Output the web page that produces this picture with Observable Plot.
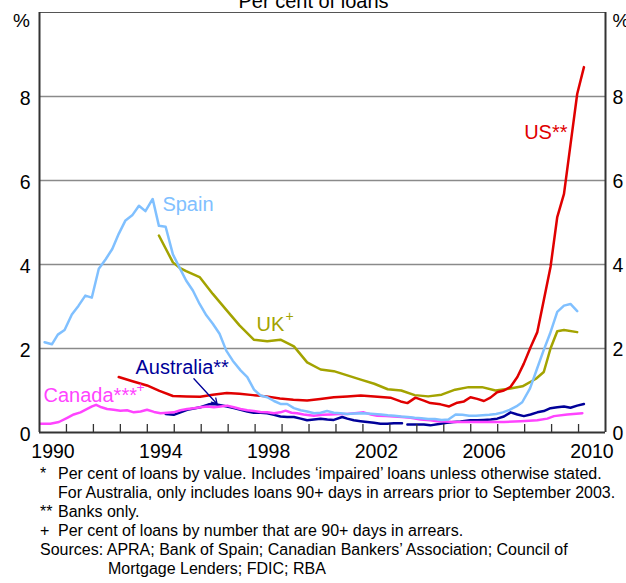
<!DOCTYPE html>
<html>
<head>
<meta charset="utf-8">
<script src="https://cdn.jsdelivr.net/npm/d3@7"></script>
<script src="https://cdn.jsdelivr.net/npm/@observablehq/plot@0.6"></script>
<style>
  html, body { margin: 0; padding: 0; background: #fff; }
  body { width: 626px; height: 583px; position: relative; overflow: hidden;
         font-family: "Liberation Sans", Arial, sans-serif; color: #000; }
  #chart svg { display: block; }
  .row { position: absolute; left: 0; height: 18px; line-height: 18px; font-size: 16px; white-space: nowrap; }
  .row span { position: absolute; top: 0; }
</style>
</head>
<body>
<div id="chart"></div>
<div id="notes"></div>
<script>
// ---------------- data ----------------
const title = "Per cent of loans";
const yTicks = [0, 2, 4, 6, 8];
const gridValues = [2, 4, 6, 8];
const yMax = 10;
const xDomain = [1990, 2011];
const tickYears = [1991,1992,1993,1994,1995,1996,1997,1998,1999,2000,2001,2002,2003,2004,2005,2006,2007,2008,2009,2010];
const labelYears = [1990, 1994, 1998, 2002, 2006, 2010];

const spain = [[1990.19,2.15],[1990.46,2.10],[1990.68,2.33],[1990.93,2.44],[1991.2,2.81],[1991.45,3.02],[1991.7,3.26],[1991.94,3.21],[1992.2,3.90],[1992.45,4.12],[1992.7,4.37],[1992.94,4.73],[1993.19,5.05],[1993.44,5.17],[1993.69,5.40],[1993.93,5.27],[1994.2,5.56],[1994.43,4.92],[1994.68,4.90],[1994.95,4.24],[1995.2,3.92],[1995.44,3.62],[1995.69,3.38],[1995.94,3.06],[1996.19,2.79],[1996.43,2.59],[1996.68,2.35],[1996.93,1.95],[1997.17,1.71],[1997.46,1.48],[1997.71,1.32],[1997.96,1.02],[1998.2,0.88],[1998.45,0.84],[1998.7,0.75],[1998.94,0.68],[1999.19,0.68],[1999.44,0.58],[1999.69,0.53],[1999.93,0.50],[2000.19,0.46],[2000.43,0.47],[2000.67,0.51],[2000.92,0.47],[2001.17,0.46],[2001.42,0.44],[2001.67,0.45],[2001.92,0.46],[2002.17,0.45],[2002.42,0.44],[2002.67,0.43],[2002.92,0.41],[2003.17,0.40],[2003.42,0.38],[2003.67,0.37],[2003.92,0.35],[2004.17,0.34],[2004.42,0.32],[2004.67,0.32],[2004.92,0.30],[2005.17,0.31],[2005.44,0.43],[2005.69,0.42],[2005.94,0.40],[2006.19,0.40],[2006.44,0.41],[2006.69,0.42],[2006.94,0.44],[2007.19,0.48],[2007.44,0.54],[2007.69,0.62],[2007.91,0.72],[2008.2,1.05],[2008.45,1.50],[2008.7,1.95],[2008.94,2.35],[2009.21,2.87],[2009.46,3.02],[2009.7,3.06],[2009.95,2.89]];

const uk = [[1994.43,4.69],[1994.95,4.05],[1995.2,3.92],[1995.44,3.84],[1995.94,3.70],[1996.43,3.30],[1996.93,2.92],[1997.42,2.55],[1997.95,2.21],[1998.45,2.17],[1998.94,2.21],[1999.44,2.05],[1999.93,1.67],[2000.43,1.50],[2000.92,1.46],[2001.42,1.36],[2001.92,1.26],[2002.42,1.16],[2002.92,1.03],[2003.42,1.0],[2003.92,0.89],[2004.42,0.86],[2004.92,0.90],[2005.42,1.02],[2005.92,1.08],[2006.42,1.08],[2006.92,1.0],[2007.42,1.04],[2007.92,1.10],[2008.42,1.28],[2008.71,1.44],[2008.96,2.0],[2009.21,2.41],[2009.46,2.44],[2009.95,2.39]];

const us = [[1992.94,1.32],[1993.45,1.22],[1993.99,1.12],[1994.45,0.99],[1994.95,0.87],[1995.45,0.86],[1995.96,0.85],[1996.43,0.90],[1996.95,0.94],[1997.42,0.92],[1997.92,0.89],[1998.42,0.86],[1998.92,0.81],[1999.42,0.78],[1999.93,0.76],[2000.42,0.80],[2000.92,0.84],[2001.42,0.86],[2001.92,0.88],[2002.42,0.86],[2003.02,0.83],[2003.4,0.74],[2003.65,0.70],[2003.95,0.83],[2004.26,0.76],[2004.5,0.70],[2004.88,0.67],[2005.2,0.62],[2005.5,0.71],[2005.75,0.74],[2005.99,0.84],[2006.24,0.80],[2006.49,0.75],[2006.73,0.83],[2006.98,0.96],[2007.23,1.0],[2007.48,1.09],[2007.73,1.32],[2007.97,1.64],[2008.22,2.03],[2008.47,2.39],[2008.71,3.15],[2008.96,3.94],[2009.21,5.13],[2009.46,5.68],[2009.7,6.85],[2009.95,8.06],[2010.2,8.70]];

const australia = [[1994.68,0.44],[1994.98,0.42],[1995.23,0.48],[1995.48,0.54],[1995.73,0.57],[1995.97,0.60],[1996.28,0.67],[1996.47,0.68],[1996.72,0.65],[1996.96,0.62],[1997.21,0.58],[1997.46,0.54],[1997.71,0.50],[1997.95,0.47],[1998.2,0.47],[1998.45,0.46],[1998.7,0.42],[1998.94,0.38],[1999.19,0.37],[1999.44,0.37],[1999.69,0.33],[1999.93,0.29],[2000.18,0.31],[2000.43,0.33],[2000.68,0.31],[2000.92,0.30],[2001.23,0.37],[2001.42,0.33],[2001.66,0.29],[2001.91,0.27],[2002.16,0.25],[2002.41,0.23],[2002.65,0.21],[2002.9,0.21],[2003.15,0.22],[2003.45,0.22],[2003.55,null],[2003.65,0.19],[2004.01,0.19],[2004.26,0.19],[2004.5,0.17],[2004.88,0.21],[2005.12,0.23],[2005.37,0.25],[2005.62,0.26],[2005.99,0.29],[2006.25,0.29],[2006.49,0.30],[2006.74,0.31],[2006.98,0.33],[2007.23,0.38],[2007.48,0.48],[2007.73,0.43],[2007.97,0.39],[2008.22,0.43],[2008.47,0.48],[2008.71,0.51],[2008.96,0.58],[2009.21,0.60],[2009.46,0.62],[2009.7,0.59],[2009.95,0.64],[2010.2,0.68]];

const canada = [[1990.04,0.21],[1990.4,0.21],[1990.72,0.25],[1991.03,0.35],[1991.27,0.43],[1991.52,0.48],[1991.77,0.56],[1991.95,0.62],[1992.1,0.66],[1992.3,0.60],[1992.51,0.56],[1992.75,0.54],[1993.0,0.52],[1993.25,0.53],[1993.5,0.48],[1993.75,0.50],[1993.99,0.54],[1994.25,0.49],[1994.49,0.46],[1994.75,0.47],[1994.98,0.48],[1995.23,0.53],[1995.48,0.56],[1995.73,0.58],[1995.97,0.60],[1996.22,0.62],[1996.47,0.60],[1996.72,0.62],[1996.96,0.64],[1997.21,0.60],[1997.46,0.56],[1997.71,0.53],[1997.95,0.51],[1998.2,0.49],[1998.45,0.48],[1998.7,0.46],[1998.94,0.48],[1999.13,0.52],[1999.35,0.47],[1999.56,0.46],[1999.8,0.43],[2000.18,0.40],[2000.5,0.42],[2000.8,0.43],[2001.1,0.44],[2001.42,0.44],[2001.7,0.46],[2002.03,0.48],[2002.3,0.43],[2002.53,0.40],[2002.85,0.39],[2003.15,0.38],[2003.45,0.37],[2003.77,0.35],[2004.14,0.31],[2004.5,0.29],[2004.76,0.27],[2005.05,0.26],[2005.37,0.25],[2005.99,0.25],[2006.61,0.25],[2007.23,0.25],[2007.85,0.27],[2008.47,0.29],[2008.84,0.33],[2009.09,0.39],[2009.58,0.43],[2010.14,0.46]];

const seriesNames = ["Australia", "Canada", "UK", "US", "Spain"];
const seriesData = {Australia: australia, Canada: canada, UK: uk, US: us, Spain: spain};
const seriesColors = {Australia: "#000099", Canada: "#FF44FF", UK: "#A3A300", US: "#E00000", Spain: "#80C0FF"};

// label annotations (year, value)
const labelsStart = [
  {text: "Spain", x: 1994.56, y: 5.43, series: "Spain"},
  {text: "UK", x: 1998.05, y: 2.58, series: "UK"},
  {text: "Australia**", x: 1993.56, y: 1.54, series: "Australia"},
  {text: "Canada***", x: 1990.15, y: 0.87, series: "Canada"}
];
const labelsEnd = [
  {text: "US**", x: 2009.59, y: 7.13, series: "US"}
];
const superscripts = [
  {text: "+", x: 1998.05, y: 2.58, series: "UK", shift: 29},
  {text: "+", x: 1990.15, y: 0.87, series: "Canada", shift: 93}
];
const arrowNotes = [{x1: 1995.73, y1: 1.28, x2: 1996.59, y2: 0.68}];

const notes = [
  {mark: "*", text: "Per cent of loans by value. Includes \u2018impaired\u2019 loans unless otherwise stated."},
  {mark: "", text: "For Australia, only includes loans 90+ days in arrears prior to September 2003."},
  {mark: "**", text: "Banks only."},
  {mark: "+", text: "Per cent of loans by number that are 90+ days in arrears."},
  {mark: "", source: "Sources: APRA; Bank of Spain; Canadian Bankers\u2019 Association; Council of"},
  {mark: "", cont: "Mortgage Lenders; FDIC; RBA"}
];

// ---------------- chart ----------------
const font = "'Liberation Sans', Arial, Helvetica, sans-serif";
const lineMarks = seriesNames.map(name =>
  Plot.line(seriesData[name], {
    x: d => d[0], y: d => d[1],
    stroke: seriesColors[name], strokeWidth: 2.5, strokeLinejoin: "round"
  })
);

const chart = Plot.plot({
  width: 626,
  height: 466,
  marginLeft: 39,
  marginRight: 21,
  marginTop: 12,
  marginBottom: 34,
  x: {domain: xDomain},
  y: {domain: [0, yMax]},
  style: {fontFamily: font, fontSize: "19.5px", color: "#000", background: "#fff"},
  marks: [
    Plot.ruleY(gridValues, {stroke: "#8a8a8a", strokeWidth: 1.4}),
    Plot.ruleY([yMax], {stroke: "#555", strokeWidth: 1.2}),
    ...lineMarks,
    Plot.arrow(arrowNotes, {x1: "x1", y1: "y1", x2: "x2", y2: "y2", stroke: seriesColors.Australia, strokeWidth: 1.3, headLength: 7}),
    Plot.ruleY([0], {stroke: "#333", strokeWidth: 2}),
    Plot.ruleX(xDomain, {stroke: "#333", strokeWidth: 2}),
    Plot.tickX(tickYears, {x: d => d, insetTop: 412, stroke: "#333", strokeWidth: 1.3}),
    Plot.axisX(labelYears.map(d => d + 0.5), {tickSize: 0, tickPadding: 12, tickFormat: d => String(Math.floor(d)), label: null}),
    Plot.axisY(yTicks, {anchor: "left", tickSize: 0, tickPadding: 9, dy: 2, label: null}),
    Plot.axisY(yTicks, {anchor: "right", tickSize: 0, tickPadding: 7, dy: 1, label: null}),
    Plot.text(["%"], {frameAnchor: "top-left", lineAnchor: "middle", textAnchor: "middle", dx: -18, dy: 8, fontSize: 19}),
    Plot.text(["%"], {frameAnchor: "top-right", lineAnchor: "middle", textAnchor: "start", dx: 7, dy: 8, fontSize: 19}),
    Plot.text([title], {frameAnchor: "top", lineAnchor: "bottom", dx: -9, dy: -5, fontSize: 20}),
    Plot.text(labelsStart, {x: "x", y: "y", text: "text", fill: d => seriesColors[d.series], textAnchor: "start", fontSize: 20}),
    Plot.text(labelsEnd, {x: "x", y: "y", text: "text", fill: d => seriesColors[d.series], textAnchor: "end", fontSize: 20}),
    ...superscripts.map(s => Plot.text([s], {x: "x", y: "y", text: "text", fill: seriesColors[s.series], textAnchor: "start", fontSize: 14, dx: s.shift, dy: -8}))
  ]
});
document.getElementById("chart").appendChild(chart);

// ---------------- footnotes ----------------
const rowCenters = [474, 493, 512, 531, 550, 569];
const notesDiv = document.getElementById("notes");
notes.forEach((n, i) => {
  const row = document.createElement("div");
  row.className = "row";
  row.style.top = (rowCenters[i] - 9.5) + "px";
  if (n.mark) {
    const m = document.createElement("span");
    m.style.left = "40px";
    m.textContent = n.mark;
    row.appendChild(m);
  }
  const t = document.createElement("span");
  if (n.source) { t.style.left = "40px"; t.textContent = n.source; }
  else if (n.cont) { t.style.left = "108px"; t.textContent = n.cont; }
  else { t.style.left = "58px"; t.textContent = n.text; }
  row.appendChild(t);
  notesDiv.appendChild(row);
});
</script>
</body>
</html>
